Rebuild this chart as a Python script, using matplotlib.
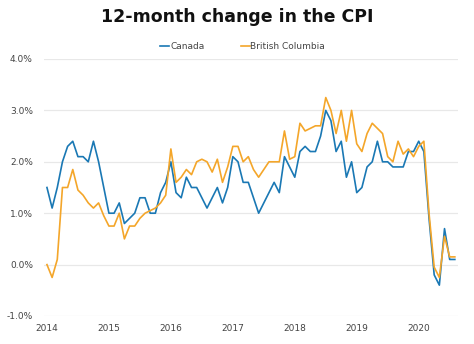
import numpy as np
import matplotlib
matplotlib.use('Agg')
import matplotlib.pyplot as plt

# monthly values, Jan 2014 .. Aug 2020 (12-month % change)
canada = [
    1.5, 1.1, 1.5, 2.0, 2.3, 2.4, 2.1, 2.1, 2.0, 2.4, 2.0, 1.5,   # 2014
    1.0, 1.0, 1.2, 0.8, 0.9, 1.0, 1.3, 1.3, 1.0, 1.0, 1.4, 1.6,   # 2015
    2.0, 1.4, 1.3, 1.7, 1.5, 1.5, 1.3, 1.1, 1.3, 1.5, 1.2, 1.5,   # 2016
    2.1, 2.0, 1.6, 1.6, 1.3, 1.0, 1.2, 1.4, 1.6, 1.4, 2.1, 1.9,   # 2017
    1.7, 2.2, 2.3, 2.2, 2.2, 2.5, 3.0, 2.8, 2.2, 2.4, 1.7, 2.0,   # 2018
    1.4, 1.5, 1.9, 2.0, 2.4, 2.0, 2.0, 1.9, 1.9, 1.9, 2.2, 2.2,   # 2019
    2.4, 2.2, 0.9, -0.2, -0.4, 0.7, 0.1, 0.1,                     # 2020
]
british_columbia = [
    0.0, -0.25, 0.1, 1.5, 1.5, 1.85, 1.45, 1.35, 1.2, 1.1, 1.2, 0.95,  # 2014
    0.75, 0.75, 1.0, 0.5, 0.75, 0.75, 0.9, 1.0, 1.05, 1.1, 1.2, 1.35,  # 2015
    2.25, 1.6, 1.7, 1.85, 1.75, 2.0, 2.05, 2.0, 1.8, 2.05, 1.6, 1.9,   # 2016
    2.3, 2.3, 2.0, 2.1, 1.85, 1.7, 1.85, 2.0, 2.0, 2.0, 2.6, 2.05,     # 2017
    2.1, 2.75, 2.6, 2.65, 2.7, 2.7, 3.25, 3.0, 2.55, 3.0, 2.4, 3.0,    # 2018
    2.35, 2.2, 2.55, 2.75, 2.65, 2.55, 2.1, 2.0, 2.4, 2.15, 2.25, 2.1, # 2019
    2.3, 2.4, 1.0, -0.05, -0.25, 0.55, 0.15, 0.15,                     # 2020
]
start_year = 2014
year_ticks = [2014, 2015, 2016, 2017, 2018, 2019, 2020]
pct_ticks = [-1.0, 0.0, 1.0, 2.0, 3.0, 4.0]

months = start_year + np.arange(len(canada)) / 12.0

fig = plt.figure(figsize=(4.74, 3.44), dpi=100)
ax = fig.add_axes([0.0928, 0.0814, 0.8734, 0.7471])

ax.plot(months, canada, color='#1a78b4', lw=1.2, label='Canada')
ax.plot(months, british_columbia, color='#f4a62a', lw=1.2, label='British Columbia')

ax.set_xlim(start_year - 0.048, 2020.634)
ax.set_ylim(-1.0, 4.0)
ax.set_xticks(year_ticks)
ax.set_xticklabels([str(y) for y in year_ticks])
ax.set_yticks(pct_ticks)
ax.set_yticklabels(['{:.1f}%'.format(v) for v in pct_ticks])
ax.tick_params(length=0, labelsize=6.5, labelcolor='#444444')
ax.tick_params(axis='y', pad=8)
ax.tick_params(axis='x', pad=6)
ax.grid(axis='y', color='#e8e8e8', lw=0.9)
ax.set_axisbelow(True)
for s in ax.spines.values():
    s.set_visible(False)

ax.legend(loc='lower center', bbox_to_anchor=(0.48, 1.0), ncol=2, frameon=False,
          fontsize=6.5, handlelength=1.0, handletextpad=0.1, columnspacing=4.0,
          labelcolor='#444444', borderaxespad=0.5)

fig.text(0.5, 0.95, '12-month change in the CPI', ha='center', va='center',
         fontsize=12.5, fontweight='bold', color='#111111')

fig.savefig('out.png', dpi=100)
